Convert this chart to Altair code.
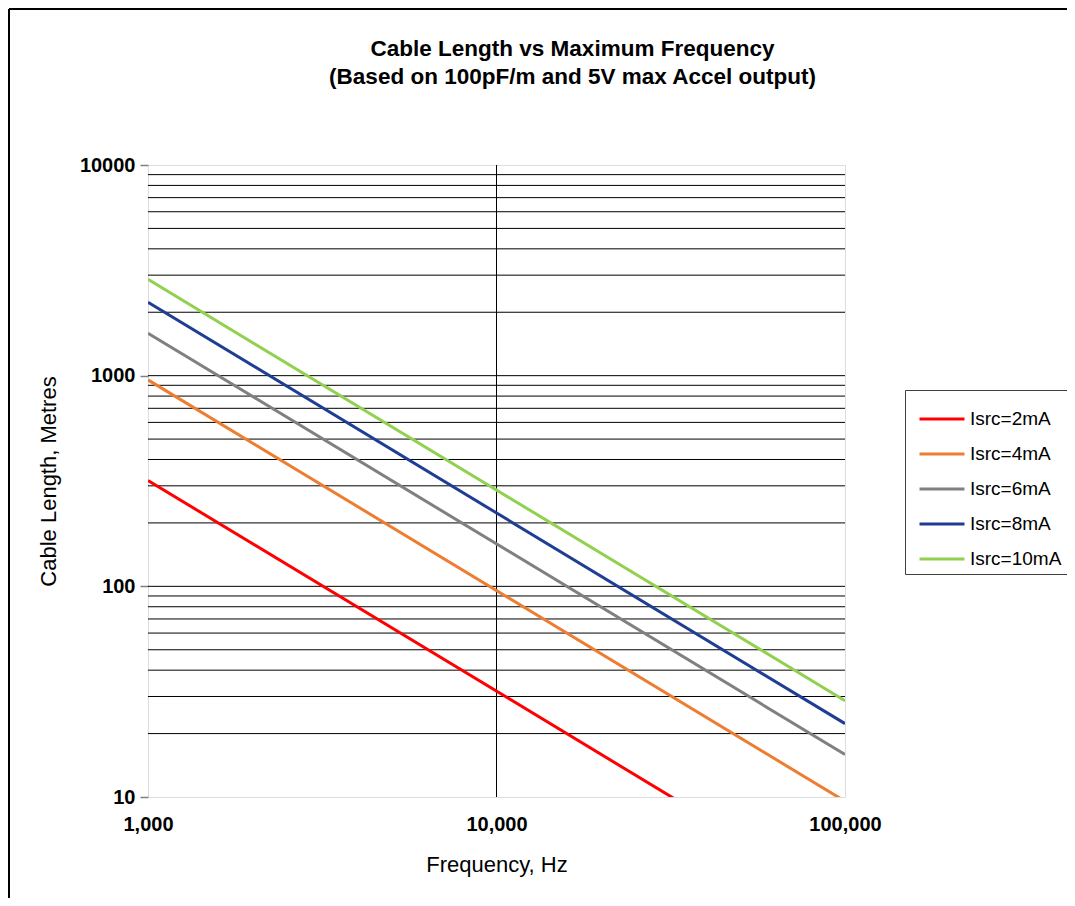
import altair as alt
import pandas as pd

# Series: cable length (m) at the two ends of the frequency range
series = ["Isrc=2mA", "Isrc=4mA", "Isrc=6mA", "Isrc=8mA", "Isrc=10mA"]
freq_ends = [1000, 100000]
len_at_1k = [318, 955, 1590, 2230, 2865]
len_at_100k = [3.18, 9.55, 15.9, 22.3, 28.65]
colors = ["#FF0000", "#ED7D31", "#808080", "#1F3E93", "#92D050"]

# gridlines
y_grid = [20, 30, 40, 50, 60, 70, 80, 90, 100, 200, 300, 400, 500, 600, 700, 800, 900,
          1000, 2000, 3000, 4000, 5000, 6000, 7000, 8000, 9000]
x_grid = [10000]
y_ticks = [10, 100, 1000, 10000]
x_ticks = [1000, 10000, 100000]

rows = []
for s, a, b in zip(series, len_at_1k, len_at_100k):
    rows.append({"series": s, "f": freq_ends[0], "L": a})
    rows.append({"series": s, "f": freq_ends[1], "L": b})
df = pd.DataFrame(rows)

FONT = "Liberation Sans"

xscale = alt.Scale(type="log", domain=[1000, 100000])
yscale = alt.Scale(type="log", domain=[10, 10000])

x_axis = alt.Axis(values=x_ticks, format=",", title="Frequency, Hz", grid=False,
                  ticks=False, domain=False, labelFont=FONT, labelFontSize=20,
                  labelFontWeight="bold", labelColor="#000", labelPadding=17,
                  titleFont=FONT, titleFontSize=22, titleFontWeight="normal",
                  titleColor="#000", titlePadding=20, labelFlush=False)
y_axis = alt.Axis(values=y_ticks, format="d", title="Cable Length, Metres", grid=False,
                  ticks=True, tickSize=8, tickColor="#808080", tickWidth=1.5,
                  domain=False, labelFont=FONT, labelFontSize=20,
                  labelFontWeight="bold", labelColor="#000", labelPadding=5,
                  titleFont=FONT, titleFontSize=22, titleFontWeight="normal",
                  titleColor="#000", titlePadding=19)

ygrid = alt.Chart(pd.DataFrame({"v": y_grid})).mark_rule(color="#000000", strokeWidth=1).encode(
    y=alt.Y("v:Q", scale=yscale, axis=y_axis)
)
xgrid = alt.Chart(pd.DataFrame({"v": x_grid})).mark_rule(color="#000000", strokeWidth=1).encode(
    x=alt.X("v:Q", scale=xscale, axis=x_axis)
)

lines = alt.Chart(df).mark_line(strokeWidth=3, clip=True).encode(
    x=alt.X("f:Q", scale=xscale, axis=x_axis),
    y=alt.Y("L:Q", scale=yscale, axis=y_axis),
    color=alt.Color("series:N", sort=series,
                    scale=alt.Scale(domain=series, range=colors),
                    legend=alt.Legend(title=None, orient="none", legendX=757, legendY=225,
                                      symbolType="stroke", symbolSize=2025,
                                      symbolStrokeWidth=3, symbolOffset=8,
                                      labelFont=FONT, labelFontSize=19,
                                      labelColor="#000", strokeColor="#404040",
                                      padding=5, rowPadding=1, labelOffset=4,
                                      fillColor="#FFFFFF")),
)

# outer chart frame (left and top edges)
frame_left = alt.Chart(pd.DataFrame({"a": [0]})).mark_rule(color="#000", strokeWidth=2, clip=False).encode(
    x=alt.value(-139), y=alt.value(-156), y2=alt.value(740)
)
frame_top = alt.Chart(pd.DataFrame({"a": [0]})).mark_rule(color="#000", strokeWidth=2, clip=False).encode(
    x=alt.value(-139), x2=alt.value(925), y=alt.value(-156)
)

chart = alt.layer(ygrid, xgrid, lines, frame_left, frame_top).properties(
    width=697, height=632,
    title=alt.Title(["Cable Length vs Maximum Frequency",
                     "(Based on 100pF/m and 5V max Accel output)"],
                    font=FONT, fontSize=22.5, fontWeight="bold", color="#000",
                    anchor="middle", dx=76, offset=-103, lineHeight=28,
                    baseline="bottom", frame="group"),
    autosize=alt.AutoSizeParams(type="none"),
    padding={"left": 140, "top": 157, "right": 222, "bottom": 101},
).configure_view(stroke="#808080", strokeWidth=2).configure(background="#FFFFFF")

chart.save("out.html", embed_options={"renderer": "svg", "actions": False})
